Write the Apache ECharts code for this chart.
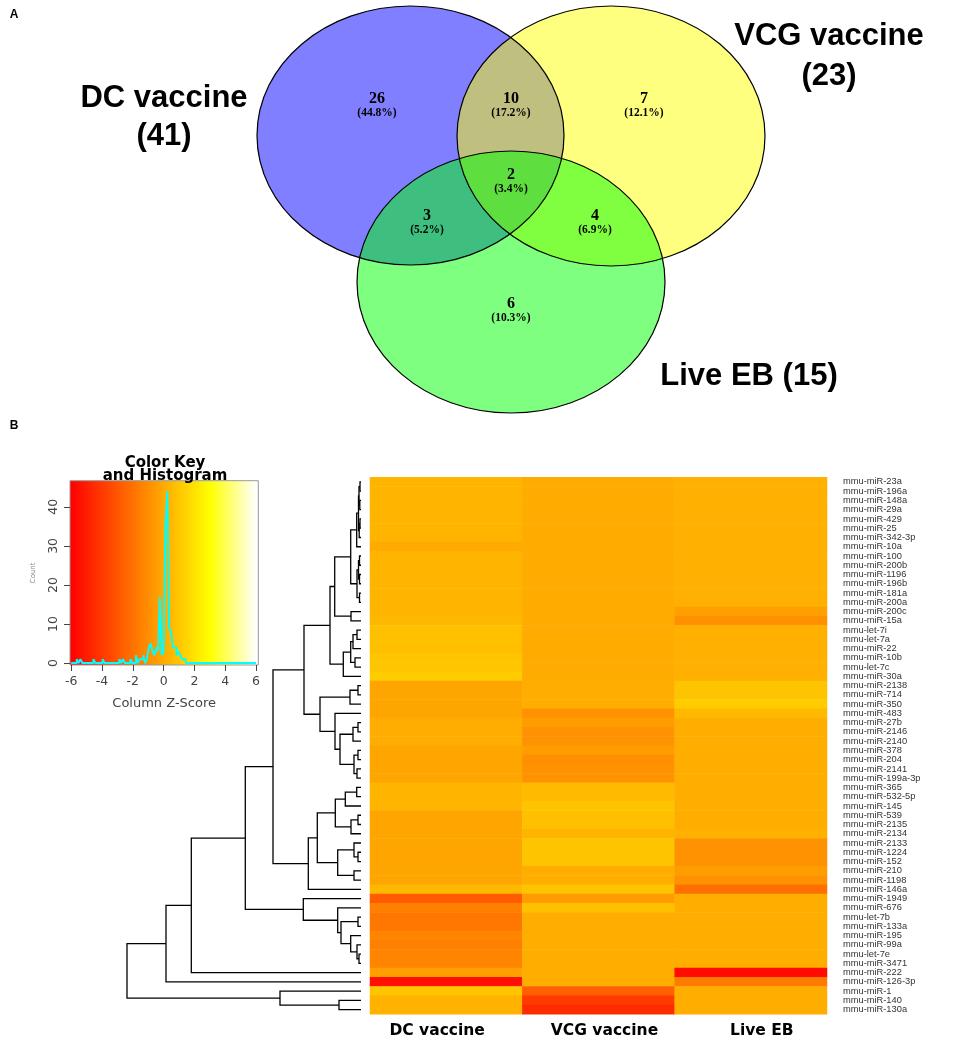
<!DOCTYPE html>
<html><head><meta charset="utf-8">
<script src="https://cdn.jsdelivr.net/npm/echarts@6/dist/echarts.min.js"></script>
<style>html,body{margin:0;padding:0;background:#fff}#c{width:957px;height:1040px}</style>
</head><body><div id="c"></div>
<script>
// ---------------- DATA ----------------
// Panel A: Venn diagram
const vennSets = ['DC vaccine', 'VCG vaccine', 'Live EB'];
const vennRegions = ['DC only', 'DC & VCG', 'VCG only', 'DC & Live EB', 'All three', 'VCG & Live EB', 'Live EB only'];
const vennMembership = [[0], [0, 1], [1], [0, 2], [0, 1, 2], [1, 2], [2]];
const vennCounts = [26, 10, 7, 3, 2, 4, 6];

// Panel B: heatmap (column z-scores)
const colLabels = ['DC vaccine', 'VCG vaccine', 'Live EB'];
const rowLabels = ['mmu-miR-23a','mmu-miR-196a','mmu-miR-148a','mmu-miR-29a','mmu-miR-429','mmu-miR-25','mmu-miR-342-3p','mmu-miR-10a','mmu-miR-100','mmu-miR-200b','mmu-miR-1196','mmu-miR-196b','mmu-miR-181a','mmu-miR-200a','mmu-miR-200c','mmu-miR-15a','mmu-let-7i','mmu-let-7a','mmu-miR-22','mmu-miR-10b','mmu-let-7c','mmu-miR-30a','mmu-miR-2138','mmu-miR-714','mmu-miR-350','mmu-miR-483','mmu-miR-27b','mmu-miR-2146','mmu-miR-2140','mmu-miR-378','mmu-miR-204','mmu-miR-2141','mmu-miR-199a-3p','mmu-miR-365','mmu-miR-532-5p','mmu-miR-145','mmu-miR-539','mmu-miR-2135','mmu-miR-2134','mmu-miR-2133','mmu-miR-1224','mmu-miR-152','mmu-miR-210','mmu-miR-1198','mmu-miR-146a','mmu-miR-1949','mmu-miR-676','mmu-let-7b','mmu-miR-133a','mmu-miR-195','mmu-miR-99a','mmu-let-7e','mmu-miR-3471','mmu-miR-222','mmu-miR-126-3p','mmu-miR-1','mmu-miR-140','mmu-miR-130a'];
const dcValues = [0.35,0.35,0.35,0.35,0.35,0.35,0.35,0.0,0.35,0.35,0.35,0.35,0.35,0.35,0.4,0.5,0.78,0.78,0.7,0.95,0.95,1.2,-0.18,-0.18,-0.18,-0.18,0.1,0.1,0.1,-0.18,-0.18,-0.18,-0.18,0.35,0.35,0.35,-0.18,-0.18,-0.18,-0.18,-0.18,-0.18,-0.18,-0.18,0.5,-2.8,-1.52,-1.8,-1.8,-1.3,-1.48,-1.3,-1.3,-0.35,-5.44,0.95,0.32,0.32];
const vcgValues = [0.05,0.05,0.05,0.05,0.05,0.05,0.05,0.05,0.05,0.05,0.05,0.05,0.05,0.05,0.05,0.05,0.05,0.05,0.05,0.05,0.05,0.05,0.1,0.1,0.1,-0.85,-0.46,-0.85,-0.85,-0.46,-0.95,-0.85,-0.85,0.6,0.6,0.92,0.78,0.78,0.4,0.92,0.92,0.92,0.14,0.14,0.92,-0.46,0.78,0.14,0.14,0.14,0.14,0.14,0.14,0.14,0.14,-2.6,-3.95,-4.5];
const liveEbValues = [0.21,0.21,0.21,0.21,0.21,0.21,0.21,0.21,0.21,0.21,0.21,0.21,0.21,0.21,-0.39,-0.92,0.21,0.21,0.21,0.21,0.21,0.21,0.92,0.92,1.2,0.56,0.14,0.14,0.14,0.14,0.14,0.14,0.14,0.14,0.14,0.14,0.14,0.14,0.21,-0.85,-0.85,-0.85,-0.5,-0.85,-2.05,0.14,0.14,0.14,0.14,0.14,0.14,0.14,0.14,-5.58,-1.7,0.14,0.14,0.14];

// Row dendrogram, hclust style: negative = leaf (row index + 1), positive = earlier merge; [a, b, height]
const dendroMerges = [
  [-1,-2,1],[-3,-4,1.2],[1,2,2],[-5,-6,1],[4,-7,1.8],[3,5,2.5],[6,-8,4.3],
  [-9,-10,1.5],[-11,-12,1.5],[8,9,2.5],[-13,-14,1.5],[10,11,4],[7,12,10.3],
  [-15,-16,10],[13,14,26.3],[-17,-18,4],[16,-19,8],[-20,-21,6],[17,18,10.3],
  [19,-22,17.7],[15,20,31],[-23,-24,3],[22,-25,11],[-27,-28,3],[24,-29,8],
  [-30,-31,3],[-32,-33,4],[26,27,7],[25,28,21],[-26,29,26],[23,30,41],[21,31,57],
  [-34,-35,4.3],[33,-36,15.7],[-37,-38,3],[35,-39,10],[34,36,25.7],[-41,-42,3],
  [-40,38,7],[-43,-44,7],[39,40,23.3],[37,41,43.7],[42,-45,52.7],[32,43,88],
  [-48,-49,3],[-52,-53,2],[-51,46,4],[-50,47,10.3],[45,48,20],[-47,49,23.3],
  [-46,50,57.7],[44,51,115.7],[52,-54,169.7],[53,-55,195],[-57,-58,22],[-56,55,81],[54,56,234]
];

// Colour key histogram (bin left edge, count)
const histBinWidth = 0.12;
const histBinStart = [-5.64,-5.40,-4.56,-3.96,-2.88,-2.64,-2.16,-1.80,-1.56,-1.44,-1.32,-1.08,-0.96,-0.84,-0.72,-0.60,-0.48,-0.36,-0.24,-0.12,0.00,0.12,0.24,0.36,0.48,0.60,0.72,0.84,0.96,1.08,1.20,1.32];
const histCounts   = [1,1,1,1,1,1,1,2,1,1,2,1,4,5,3,2,4,3,17,2,3,35,44,9,8,4,4,2,3,2,1,1];
const keyTicks = [-6,-4,-2,0,2,4,6];
const countTicks = [0,10,20,30,40];

// ---------------- LAYOUT / STYLE ----------------
const keyColors = ['#FF0000','#FF5500','#FFAA00','#FFFF00','#FFFFFF']; // evenly spaced -6..6
const keyMin = -6, keyMax = 6, keyAxisMin = -6.08, keyAxisMax = 6.15;
const vennEllipseLayout = [
  {cx:410.5, cy:135.5, rx:153.5, ry:129.5},
  {cx:611, cy:136, rx:154, ry:130},
  {cx:511, cy:282, rx:154, ry:131}
];
const vennFill = ['rgba(0,0,255,0.5)','rgba(255,255,0,0.5)','rgba(0,255,0,0.5)'];
const vennRegionLayout = [[377,99],[511,99],[644,99],[427,216],[511,175],[595,216],[511,304]];
const vennSetLabelLayout = [
  {x:164, y:[98,136], lines:2},
  {x:829, y:[36,76], lines:2},
  {x:749, y:[376], lines:1}
];
const colLabelShift = [-9, 6, 11];

// ---------------- DERIVED ----------------
const total = vennCounts.reduce((a,b)=>a+b,0);
const setTotals = vennSets.map((s,i)=>vennCounts.reduce((acc,c,r)=>acc+(vennMembership[r].includes(i)?c:0),0));

const heatData = [];
[dcValues, vcgValues, liveEbValues].forEach((arr,j)=>arr.forEach((v,i)=>heatData.push([j,i,v])));

const nodes = [];
function child(ref){ return ref < 0 ? {h:0, y:(-ref-1)+0.5} : nodes[ref-1]; }
const dendroLines = dendroMerges.map(([a,b,h])=>{
  const ca = child(a), cb = child(b);
  nodes.push({h:h, y:(ca.y+cb.y)/2});
  return {coords:[[ca.h,ca.y],[h,ca.y],[h,cb.y],[cb.h,cb.y]]};
});

const histPath = [[keyMin,0]];
histBinStart.forEach((x0,i)=>{
  const x1 = x0 + histBinWidth, c = histCounts[i];
  const last = histPath[histPath.length-1];
  if (Math.abs(last[0]-x0) > 1e-6) histPath.push([x0,0]);
  histPath.push([x0,c]); histPath.push([x1,c]);
  const next = histBinStart[i+1];
  if (next === undefined || Math.abs(next-x1) > 1e-6) histPath.push([x1,0]);
});
histPath.push([keyMax,0]);

const gradStops = [{offset:0, color:keyColors[0]}];
keyColors.forEach((c,k)=>{
  const v = keyMin + (keyMax-keyMin)*k/(keyColors.length-1);
  gradStops.push({offset:Math.min(1,Math.max(0,(v-keyAxisMin)/(keyAxisMax-keyAxisMin))), color:c});
});
gradStops.push({offset:1, color:keyColors[keyColors.length-1]});

function txt(x,y,text,font,fill){
  return {type:'text', x:x, y:y, style:{text:text, font:font, fill:fill||'#000', align:'center', verticalAlign:'middle', textAlign:'center', textVerticalAlign:'middle'}};
}

// ---------------- CHART ----------------
const chart = echarts.init(document.getElementById('c'), null, {renderer:'canvas'});
const axisFont = '"DejaVu Sans", sans-serif';
const colRich = {};
colLabelShift.forEach((s,i)=>{
  colRich['c'+i] = {fontFamily:axisFont, fontWeight:'bold', fontSize:15.5, color:'#000',
    padding: s < 0 ? [0, -2*s, 0, 0] : [0, 0, 0, 2*s]};
});
chart.setOption({
  animation:false,
  backgroundColor:'#fff',
  graphic:[
    txt(14,15,'A','bold 12px "Liberation Sans", Arial, sans-serif'),
    txt(14,426,'B','bold 12px "Liberation Sans", Arial, sans-serif'),
    txt(165,463,'Color Key','bold 15px "DejaVu Sans", sans-serif'),
    txt(165,476,'and Histogram','bold 15px "DejaVu Sans", sans-serif')
  ],
  grid:[
    {left:0, top:0, width:957, height:440},
    {left:370, top:477.3, width:457, height:537},
    {left:127, top:477.3, width:234, height:537},
    {left:70, top:480.7, width:188.3, height:184.3, show:true, borderColor:'#999', borderWidth:1,
     backgroundColor:{type:'linear', x:0, y:0, x2:1, y2:0, colorStops:gradStops}}
  ],
  xAxis:[
    {gridIndex:0, type:'value', min:0, max:957, show:false},
    {gridIndex:1, type:'category', data:colLabels, position:'bottom',
     axisLine:{show:false}, axisTick:{show:false}, splitLine:{show:false},
     axisLabel:{margin:9, formatter:function(v, i){ return '{c' + i + '|' + v + '}'; }, rich:colRich}},
    {gridIndex:2, type:'value', min:0, max:234, inverse:true, show:false},
    {gridIndex:3, type:'value', min:keyAxisMin, max:keyAxisMax, splitLine:{show:false},
     axisLine:{show:false, onZero:false},
     axisTick:{show:true, customValues:keyTicks, length:6, lineStyle:{color:'#444'}},
     axisLabel:{customValues:keyTicks, margin:10, fontFamily:axisFont, fontSize:12.5, color:'#444'},
     name:'Column Z-Score', nameLocation:'middle', nameGap:32,
     nameTextStyle:{fontFamily:axisFont, fontSize:13, color:'#444'}}
  ],
  yAxis:[
    {gridIndex:0, type:'value', min:0, max:440, inverse:true, show:false},
    {gridIndex:1, type:'category', data:rowLabels, inverse:true, position:'right',
     axisLine:{show:false}, axisTick:{show:false}, splitLine:{show:false},
     axisLabel:{interval:0, margin:16, fontFamily:'"Liberation Sans", Arial, sans-serif', fontSize:9.3, color:'#333'}},
    {gridIndex:2, type:'value', min:0, max:58, inverse:true, show:false},
    {gridIndex:3, type:'value', min:-0.5, max:46.7, splitLine:{show:false},
     axisLine:{show:false, onZero:false},
     axisTick:{show:true, customValues:countTicks, length:6, lineStyle:{color:'#444'}},
     axisLabel:{customValues:countTicks, rotate:90, margin:10, fontFamily:axisFont, fontSize:12.5, color:'#444'},
     name:'Count', nameLocation:'middle', nameGap:33, nameRotate:90,
     nameTextStyle:{fontFamily:axisFont, fontSize:7, color:'#888'}}
  ],
  visualMap:{type:'continuous', show:false, min:keyMin, max:keyMax, dimension:2, seriesIndex:3,
    inRange:{color:keyColors}},
  series:[
    {type:'custom', name:'venn-fill', coordinateSystem:'cartesian2d', xAxisIndex:0, yAxisIndex:0, z:1,
     data:vennSets.map((n,i)=>({name:n, value:[i, setTotals[i]]})),
     renderItem:function(params, api){
       const e = vennEllipseLayout[params.dataIndex];
       const c = api.coord([e.cx, e.cy]); const s = api.size([e.rx, e.ry]);
       return {type:'ellipse', shape:{cx:c[0], cy:c[1], rx:s[0], ry:s[1]}, style:{fill:vennFill[params.dataIndex]}};
     }},
    {type:'custom', name:'venn-border', coordinateSystem:'cartesian2d', xAxisIndex:0, yAxisIndex:0, z:2,
     data:vennSets.map((n,i)=>({name:n, value:[i, setTotals[i]]})),
     renderItem:function(params, api){
       const e = vennEllipseLayout[params.dataIndex];
       const c = api.coord([e.cx, e.cy]); const s = api.size([e.rx, e.ry]);
       const lab = vennSetLabelLayout[params.dataIndex];
       const name = vennSets[params.dataIndex], n = setTotals[params.dataIndex];
       const font = 'bold 31px "Liberation Sans", Arial, sans-serif';
       const children = [{type:'ellipse', shape:{cx:c[0], cy:c[1], rx:s[0], ry:s[1]}, style:{fill:'none', stroke:'#000', lineWidth:1.2}}];
       if (lab.lines === 2) {
         const p1 = api.coord([lab.x, lab.y[0]]), p2 = api.coord([lab.x, lab.y[1]]);
         children.push(txt(p1[0], p1[1], name, font));
         children.push(txt(p2[0], p2[1], '(' + n + ')', font));
       } else {
         const p1 = api.coord([lab.x, lab.y[0]]);
         children.push(txt(p1[0], p1[1], name + ' (' + n + ')', font));
       }
       return {type:'group', children:children};
     }},
    {type:'custom', name:'venn-regions', coordinateSystem:'cartesian2d', xAxisIndex:0, yAxisIndex:0, z:3,
     data:vennRegions.map((r,i)=>({name:r, value:[i, vennCounts[i]]})),
     renderItem:function(params, api){
       const pos = vennRegionLayout[params.dataIndex];
       const p = api.coord(pos);
       const cnt = vennCounts[params.dataIndex];
       const pct = (cnt/total*100).toFixed(1) + '%';
       return {type:'group', children:[
         txt(p[0], p[1], String(cnt), 'bold 16px "Liberation Serif", "Times New Roman", serif'),
         txt(p[0], p[1]+14, '(' + pct + ')', 'bold 11.5px "Liberation Serif", "Times New Roman", serif')
       ]};
     }},
    {type:'heatmap', name:'z-score', xAxisIndex:1, yAxisIndex:1, data:heatData,
     itemStyle:{borderWidth:0}, emphasis:{disabled:true}, progressive:0},
    {type:'lines', name:'dendrogram', coordinateSystem:'cartesian2d', xAxisIndex:2, yAxisIndex:2,
     polyline:true, data:dendroLines, silent:true,
     lineStyle:{color:'#000', width:1.3, opacity:1}},
    {type:'line', name:'histogram', xAxisIndex:3, yAxisIndex:3, data:histPath, symbol:'none',
     lineStyle:{color:'#00FFFF', width:2}, z:5, silent:true}
  ]
});
</script>
</body></html>
